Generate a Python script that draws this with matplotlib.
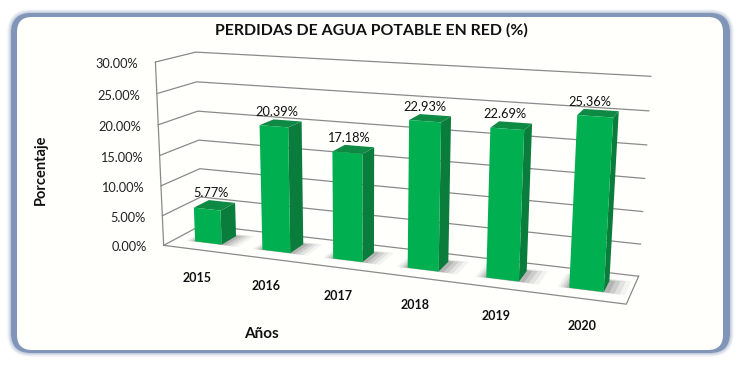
import numpy as np
import matplotlib
matplotlib.use("Agg")
from matplotlib import pyplot as plt
from matplotlib.patches import FancyBboxPatch

# datos
years = ["2015", "2016", "2017", "2018", "2019", "2020"]
perdidas = [5.77, 20.39, 17.18, 22.93, 22.69, 25.36]
y_ticks = [0, 5, 10, 15, 20, 25, 30]

plt.rcParams['font.family'] = ['Lato', 'DejaVu Sans']

W, H = 739, 367
fig = plt.figure(figsize=(W / 100, H / 100), dpi=100)
ax = fig.add_axes([0, 0, 1, 1])
ax.set_xlim(0, W)
ax.set_ylim(H, 0)
ax.axis("off")

n = len(years)
vmax = y_ticks[-1]
bar_w = 0.40 / n
d0, d1 = 0.30, 0.70

calib = [
    (0, 0, 0, 166, 245), (0, 0, 5, 163, 215), (0, 0, 10, 161, 185), (0, 0, 15, 160, 156),
    (0, 0, 20, 157, 125), (0, 0, 25, 156, 93), (0, 0, 30, 153, 62),
    (0, 1, 0, 197, 227), (0, 1, 10, 200, 168), (0, 1, 20, 200, 111), (0, 1, 30, 198, 52),
    (1, 1, 0, 638, 275), (1, 1, 10, 643, 211), (1, 1, 20, 647, 145), (1, 1, 30, 651, 76),
    (1, 0, 0, 627, 305),
    (0.5 / n - bar_w / 2, d0, 0, 196, 241),
    (1.5 / n - bar_w / 2, d0, 0, 263, 249), (1.5 / n - bar_w / 2, d0, 20.39, 260, 127),
    (3.5 / n - bar_w / 2, d0, 0, 408, 268), (3.5 / n - bar_w / 2, d0, 22.93, 408, 120),
    (4.5 / n - bar_w / 2, d0, 0, 486, 278), (4.5 / n - bar_w / 2, d0, 22.69, 490, 127),
    (5.5 / n - bar_w / 2, d0, 0, 569, 288), (5.5 / n - bar_w / 2, d0, 25.36, 577, 116),
    (5.5 / n + bar_w / 2, d0, 0, 604, 292),
]
A = []
for u, d, v, x, y in calib:
    X = [u, d, v / vmax, 1]
    A.append(X + [0, 0, 0, 0] + [-x / W * c for c in X])
    A.append([0, 0, 0, 0] + X + [-y / H * c for c in X])
cam = np.linalg.svd(np.array(A, float))[2][-1].reshape(3, 4)


def project(u, d, v):
    p = cam @ [u, d, v / vmax, 1]
    return np.array([p[0] / p[2] * W, p[1] / p[2] * H])


def poly(points, **kw):
    ax.fill([p[0] for p in points], [p[1] for p in points], **kw)


# marco
for grow, alpha in [(4, .08), (3, .12), (2, .18), (1, .25)]:
    ax.add_patch(FancyBboxPatch((11, 13), 719, 340,
                                boxstyle="round,pad=%d,rounding_size=%d" % (grow, 20 + grow),
                                fc="#8ca0c0", ec="none", alpha=alpha))
ax.add_patch(FancyBboxPatch((11, 13), 719, 340, boxstyle="round,pad=0,rounding_size=20",
                            fc="#8195b8", ec="none"))
ax.add_patch(FancyBboxPatch((17, 17), 706, 333, boxstyle="round,pad=0,rounding_size=15",
                            fc="#fffffc", ec="none"))

# rejilla
grid_c = "#8a8a8a"
for t in y_ticks:
    a, b, c = project(0, 0, t), project(0, 1, t), project(1, 1, t)
    ax.plot([a[0], b[0], c[0]], [a[1], b[1], c[1]], color=grid_c, lw=0.9, zorder=2)
    ax.text(a[0] - 17, a[1] + 2, "%.2f%%" % t, ha="right", va="center", fontsize=9.2,
            color="#222222", zorder=6)

edge = [project(0, 0, vmax), project(0, 0, 0), project(1, 0, 0), project(1, 1, 0)]
ax.plot([p[0] for p in edge], [p[1] for p in edge], color=grid_c, lw=0.9, zorder=2)

# barras
for i, val in enumerate(perdidas):
    c = (i + 0.5) / n
    u0, u1 = c - bar_w / 2, c + bar_w / 2

    # sombra en el suelo
    for grow, alpha in [(0.045, .07), (0.034, .11), (0.023, .16), (0.012, .22)]:
        poly([project(u0 - grow / 2, d0 - grow / 2, 0), project(u1 + grow * 0.9, d0 - grow / 2, 0),
              project(u1 + grow * 0.9, d1 + grow * 2, 0), project(u0 - grow / 2, d1 + grow * 2, 0)],
             color="#5f5f5f", alpha=alpha, lw=0, zorder=3)

    poly([project(u1, d0, 0), project(u1, d1, 0), project(u1, d1, val), project(u1, d0, val)],
         color="#0a7c3c", lw=0, zorder=4)
    poly([project(u0, d0, val), project(u1, d0, val), project(u1, d1, val), project(u0, d1, val)],
         color="#0e8a45", lw=0, zorder=4)
    poly([project(u0, d0, 0), project(u1, d0, 0), project(u1, d0, val), project(u0, d0, val)],
         color="#00b050", lw=0, zorder=5)

    top = project(c, d1, val)
    ax.text(top[0] - 11, top[1] - 8, "%.2f%%" % val, ha="center", va="center", fontsize=9.2,
            color="#111111", zorder=6)
    lab = project(c, 0, 0)
    ax.text(lab[0], lab[1] + 28, years[i], ha="center", va="center", fontsize=9,
            fontweight="bold", color="#111111", zorder=6)

ax.text(371, 30, "PERDIDAS DE AGUA POTABLE EN RED (%)", ha="center", va="center",
        fontsize=11.4, fontweight="bold", color="#111111", zorder=6)
ax.text(41, 170, "Porcentaje", rotation=90, ha="center", va="center", fontsize=10.5,
        fontweight="bold", color="#111111", zorder=6)
ax.text(261, 334, "Años", ha="center", va="center", fontsize=11, fontweight="bold",
        color="#111111", zorder=6)

fig.savefig("out.png", dpi=100, facecolor="white")
